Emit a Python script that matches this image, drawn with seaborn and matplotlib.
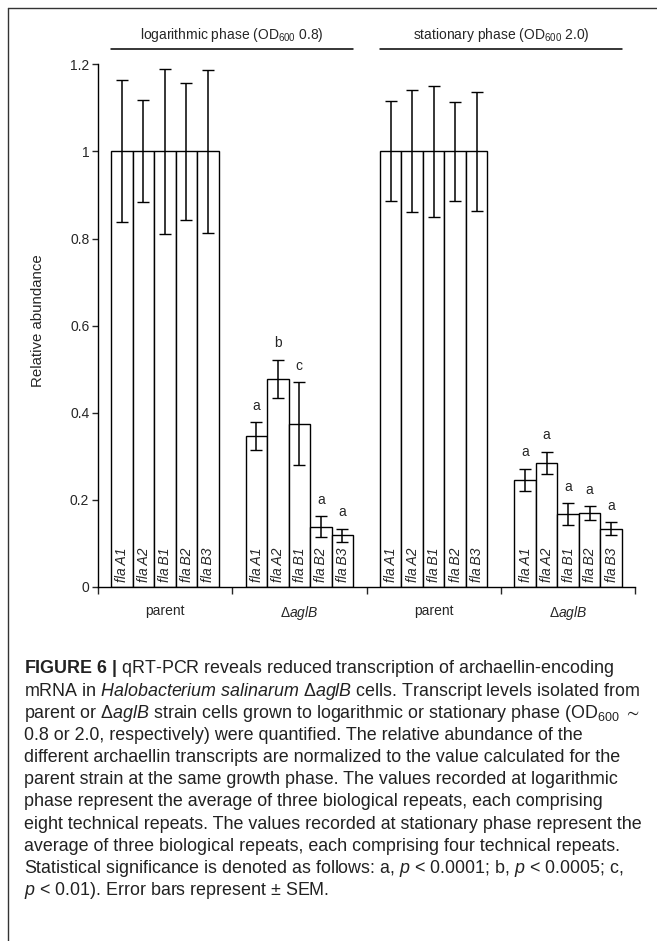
import pandas as pd
import matplotlib
matplotlib.use('Agg')
import matplotlib.pyplot as plt
from matplotlib.lines import Line2D
import matplotlib.transforms as mtrans
import seaborn as sns

# 1. Dados
genes = ['flaA1', 'flaA2', 'flaB1', 'flaB2', 'flaB3']
gene_labels = ['fla\u2009A1', 'fla\u2009A2', 'fla\u2009B1', 'fla\u2009B2', 'fla\u2009B3']
groups = ['log_parent', 'log_aglB', 'stat_parent', 'stat_aglB']
group_labels = ['parent', '\u0394$\\mathit{aglB}$', 'parent', '\u0394$\\mathit{aglB}$']

log_parent = [1.0, 1.0, 1.0, 1.0, 1.0]
log_parent_sem = [0.163, 0.117, 0.189, 0.158, 0.187]
log_aglB = [0.346, 0.478, 0.375, 0.138, 0.119]
log_aglB_sem = [0.032, 0.044, 0.095, 0.024, 0.015]
stat_parent = [1.0, 1.0, 1.0, 1.0, 1.0]
stat_parent_sem = [0.115, 0.140, 0.150, 0.113, 0.137]
stat_aglB = [0.246, 0.285, 0.167, 0.169, 0.134]
stat_aglB_sem = [0.025, 0.025, 0.025, 0.016, 0.015]

log_aglB_sig = ['a', 'b', 'c', 'a', 'a']
stat_aglB_sig = ['a', 'a', 'a', 'a', 'a']

yticks = [0, 0.2, 0.4, 0.6, 0.8, 1.0, 1.2]
ytick_labels = ['0', '0.2', '0.4', '0.6', '0.8', '1', '1.2']

phase_titles = ['logarithmic phase (OD$_{600}$ 0.8)', 'stationary phase (OD$_{600}$ 2.0)']

caption = [
    '$\\mathbf{FIGURE\\ 6\\ |}$ qRT-PCR reveals reduced transcription of archaellin-encoding',
    'mRNA in $\\mathit{Halobacterium\\ salinarum}$ \u0394$\\mathit{aglB}$ cells. Transcript levels isolated from',
    'parent or \u0394$\\mathit{aglB}$ strain cells grown to logarithmic or stationary phase (OD$_{600}$ $\\sim$',
    '0.8 or 2.0, respectively) were quantified. The relative abundance of the',
    'different archaellin transcripts are normalized to the value calculated for the',
    'parent strain at the same growth phase. The values recorded at logarithmic',
    'phase represent the average of three biological repeats, each comprising',
    'eight technical repeats. The values recorded at stationary phase represent the',
    'average of three biological repeats, each comprising four technical repeats.',
    'Statistical significance is denoted as follows: a, $\\mathit{p}$ < 0.0001; b, $\\mathit{p}$ < 0.0005; c,',
    '$\\mathit{p}$ < 0.01). Error bars represent \u00b1 SEM.',
]

# 2. Tabela longa
rows = []
for g, vals, sems in zip(groups,
                         [log_parent, log_aglB, stat_parent, stat_aglB],
                         [log_parent_sem, log_aglB_sem, stat_parent_sem, stat_aglB_sem]):
    for gene, v, s in zip(genes, vals, sems):
        rows.append({'grupo': g, 'gene': gene, 'valor': v, 'sem': s})
dados = pd.DataFrame(rows)
sig = {'log_aglB': log_aglB_sig, 'stat_aglB': stat_aglB_sig}

# 3. Estilo
sns.set_style('ticks')
plt.rcParams['font.family'] = ['Liberation Sans', 'DejaVu Sans']
plt.rcParams['mathtext.fontset'] = 'custom'
plt.rcParams['mathtext.rm'] = 'Liberation Sans'
plt.rcParams['mathtext.it'] = 'Liberation Sans:italic'
plt.rcParams['mathtext.bf'] = 'Liberation Sans:bold'
plt.rcParams['mathtext.fallback'] = 'stixsans'

fig = plt.figure(figsize=(6.57, 9.41), dpi=100)
ax = fig.add_axes([0.1487, 0.3762, 0.8183, 0.5555])

sns.barplot(data=dados, x='grupo', y='valor', hue='gene', order=groups, hue_order=genes,
            palette=['white'] * 5, edgecolor='black', linewidth=1.0, saturation=1,
            errorbar=None, width=0.8, legend=False, ax=ax)

# 4. Barras de erro, letras e nomes dos genes
bar_conts = list(ax.containers)
for i, cont in enumerate(bar_conts):
    gene = genes[i]
    for j, bar in enumerate(cont):
        g = groups[j]
        row = dados[(dados.grupo == g) & (dados.gene == gene)].iloc[0]
        xc = bar.get_x() + bar.get_width() / 2
        h = bar.get_height()
        ax.errorbar(xc, h, yerr=row['sem'], fmt='none', ecolor='black',
                    elinewidth=1.1, capsize=4, capthick=1.0, zorder=3)
        if g in sig:
            ax.annotate(sig[g][i], (xc, h + row['sem']), xytext=(0, 9),
                        textcoords='offset points', ha='center', va='baseline', fontsize=10)
        ax.annotate(gene_labels[i], (xc, 0), xytext=(0.3, 3.5), textcoords='offset points',
                    ha='center', va='bottom', rotation=90, fontsize=10, style='italic')

ax.set_xlim(-0.5, 3.5)
ax.set_ylim(0, 1.2)
ax.set_yticks(yticks, ytick_labels)
ax.set_xticks(range(4), group_labels)
ax.set_xticks([-0.5, 0.5, 1.5, 2.5, 3.5], minor=True)
ax.tick_params(axis='x', which='major', length=0, pad=12, labelsize=10)
ax.tick_params(axis='x', which='minor', length=5, width=1, direction='out')
ax.tick_params(axis='y', length=4, width=1, pad=2, labelsize=10, direction='out')
ax.set_xlabel('')
ax.set_ylabel('')
for s in ['top', 'right']:
    ax.spines[s].set_visible(False)
for s in ['left', 'bottom']:
    ax.spines[s].set_linewidth(1.0)
    ax.spines[s].set_color('black')

fig.text(38 / 657, 1 - 321 / 941, 'Relative abundance', rotation=90,
         ha='center', va='center', fontsize=10.8)

# 5. Cabeçalhos das fases
trans = mtrans.blended_transform_factory(ax.transData, ax.transAxes)
for k, titulo in enumerate(phase_titles):
    x0, x1 = 2 * k - 0.4, 2 * k + 1.4
    ax.plot([x0, x1], [1.0287, 1.0287], color='black', lw=1.1, transform=trans, clip_on=False)
    ax.text((x0 + x1) / 2, 1.0478, titulo, transform=trans, ha='center', va='baseline', fontsize=10)

# 6. Moldura e legenda da figura
fig.add_artist(Line2D([8.3 / 657, 1.0], [1 - 8.3 / 941] * 2, color='#333333', lw=1.0))
fig.add_artist(Line2D([8.3 / 657] * 2, [0, 1 - 8.3 / 941], color='#333333', lw=1.0))

for n, linha in enumerate(caption):
    fig.text(24 / 657, 1 - (673.3 + 22.2 * n) / 941, linha, ha='left', va='baseline',
             fontsize=12.9, color='#222222')

fig.savefig('out.png', dpi=100)
